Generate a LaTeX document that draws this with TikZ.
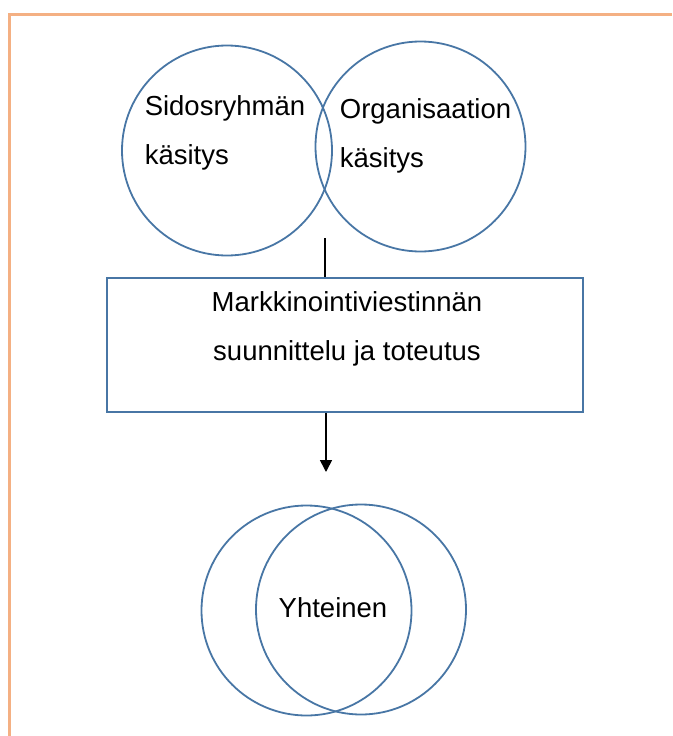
\documentclass[tikz,border=0pt]{standalone}
\usepackage{fontspec}
\setmainfont{Liberation Sans}
\usetikzlibrary{arrows.meta}
\definecolor{ringblue}{RGB}{72,118,165}
\definecolor{frameorange}{RGB}{244,176,131}
\tikzset{
  ring/.style={circle, draw=ringblue, line width=1.8pt, minimum size=210pt, inner sep=0pt},
  planbox/.style={rectangle, draw=ringblue, line width=1.8pt, minimum width=476pt, minimum height=134pt},
  ringtext/.style={align=left, inner sep=0pt, font=\fontsize{27.5}{49}\selectfont},
  conn/.style={draw=black, line width=1.6pt}
}
\begin{document}
\begin{tikzpicture}[x=1pt, y=-1pt]
\useasboundingbox (0,0) rectangle (672,736);

%frame, only top and left show
\draw [frameorange, line width=3pt] (9,736) -- (9,14) -- (672,14);

%upper pair
\node[ring] (sid) at (227,150.5) {};
\node[ring] (org) at (420.5,146.5) {};
\node[ringtext] (sidtxt) at (225,132.5) {Sidosryhmän\\käsitys};
\node[ringtext] (orgtxt) at (425.5,136) {Organisaation\\käsitys};

%planning box
\node[planbox] (plan) at (345,345) {};
\node[ringtext, align=center] (plantxt) at (347,329) {Markkinointiviestinnän\\suunnittelu ja toteutus};

%connectors
\coordinate (from) at (325,238);
\coordinate (tip) at (326,472);
\draw[conn] (from) -- (from |- plan.north);
\draw[conn, -{Triangle[length=12pt, width=12pt]}] (tip |- plan.south) -- (tip);

%lower pair
\node[ring] (yh1) at (306.5,610.5) {};
\node[ring] (yh2) at (361,609.5) {};
\node[ringtext] (yhtxt) at (333,608) {Yhteinen};
\end{tikzpicture}
\end{document}
